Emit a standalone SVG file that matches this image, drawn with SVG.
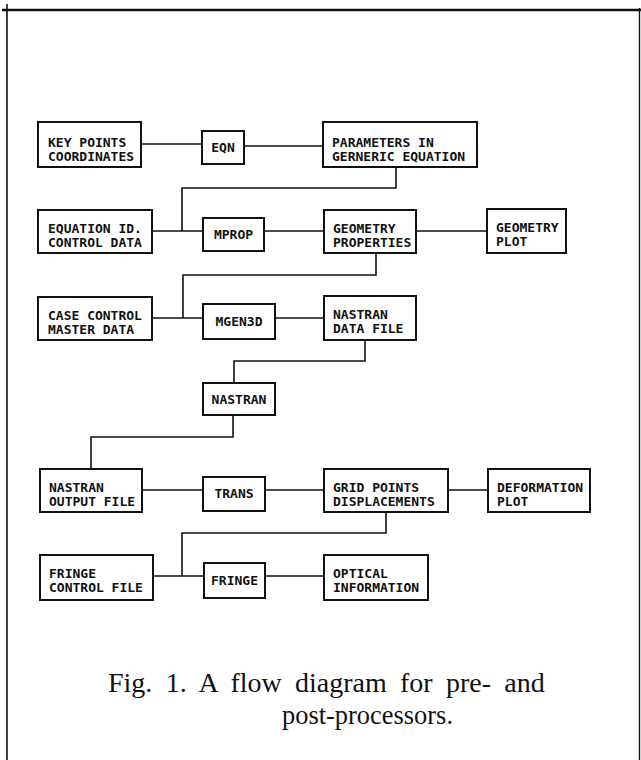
<svg xmlns="http://www.w3.org/2000/svg" width="641" height="760" viewBox="0 0 641 760">
<style>
.box{fill:#fff;stroke:#111;stroke-width:2}
.lbl{font-family:"DejaVu Sans Mono","Liberation Mono",monospace;font-weight:bold;font-size:13px;fill:#111}
.c{text-anchor:middle}
.wire{fill:none;stroke:#111;stroke-width:1.6}
.frame{fill:none;stroke:#111}
.cap{font-family:"Liberation Serif","Times New Roman",serif;font-size:28px;fill:#111}
</style>
<rect width="641" height="760" fill="#fff"/>
<g id="frame">
<line class="frame" x1="2" y1="10" x2="641" y2="10" stroke-width="2.6"/>
<line class="frame" x1="7" y1="4" x2="7" y2="760" stroke-width="1.6"/>
<line class="frame" x1="639.5" y1="8" x2="639.5" y2="760" stroke-width="1.4"/>
</g>
<g id="connectors">
<line class="wire" x1="141" y1="144" x2="202" y2="144"/>
<line class="wire" x1="244" y1="146" x2="323" y2="146"/>
<polyline class="wire" points="396,167 396,188 182,188 182,231"/>
<line class="wire" x1="152" y1="231" x2="203" y2="231"/>
<line class="wire" x1="264" y1="231" x2="324" y2="231"/>
<line class="wire" x1="416" y1="231" x2="487" y2="231" stroke-width="2"/>
<polyline class="wire" points="376,253 376,275 183,275 183,318"/>
<line class="wire" x1="152" y1="318" x2="203" y2="318"/>
<line class="wire" x1="275" y1="318" x2="324" y2="318"/>
<polyline class="wire" points="365,340 365,361 234,361 234,383"/>
<polyline class="wire" points="233,415 233,437 91,437 91,469"/>
<line class="wire" x1="142" y1="490" x2="203" y2="490"/>
<line class="wire" x1="265" y1="490" x2="324" y2="490"/>
<line class="wire" x1="448" y1="490" x2="488" y2="490"/>
<polyline class="wire" points="386,512 386,533 182,533 182,576"/>
<line class="wire" x1="153" y1="576" x2="204" y2="576"/>
<line class="wire" x1="265" y1="576" x2="324" y2="576"/>
</g>
<g id="key-points"><rect class="box" x="38" y="122" width="103" height="45"/><text class="lbl" x="48" y="147">KEY POINTS</text><text class="lbl" x="48" y="161">COORDINATES</text></g>
<g id="eqn"><rect class="box" x="202" y="131" width="42" height="33"/><text class="lbl c" x="223" y="152">EQN</text></g>
<g id="parameters"><rect class="box" x="323" y="122" width="154" height="45"/><text class="lbl" x="332" y="147">PARAMETERS IN</text><text class="lbl" x="332" y="161">GERNERIC EQUATION</text></g>
<g id="equation-id"><rect class="box" x="38" y="210" width="114" height="43"/><text class="lbl" x="48" y="233">EQUATION ID.</text><text class="lbl" x="48" y="247">CONTROL DATA</text></g>
<g id="mprop"><rect class="box" x="203" y="218" width="61" height="33"/><text class="lbl c" x="233.5" y="239">MPROP</text></g>
<g id="geometry-properties"><rect class="box" x="324" y="210" width="92" height="43"/><text class="lbl" x="333" y="233">GEOMETRY</text><text class="lbl" x="333" y="247">PROPERTIES</text></g>
<g id="geometry-plot"><rect class="box" x="487" y="209" width="79" height="44"/><text class="lbl" x="496" y="232">GEOMETRY</text><text class="lbl" x="496" y="246">PLOT</text></g>
<g id="case-control"><rect class="box" x="38" y="297" width="114" height="43"/><text class="lbl" x="48" y="320">CASE CONTROL</text><text class="lbl" x="48" y="334">MASTER DATA</text></g>
<g id="mgen3d"><rect class="box" x="203" y="304" width="72" height="35"/><text class="lbl c" x="239" y="326">MGEN3D</text></g>
<g id="nastran-data"><rect class="box" x="324" y="296" width="92" height="44"/><text class="lbl" x="333" y="319">NASTRAN</text><text class="lbl" x="333" y="333">DATA FILE</text></g>
<g id="nastran"><rect class="box" x="203" y="383" width="72" height="32"/><text class="lbl c" x="239" y="404">NASTRAN</text></g>
<g id="nastran-output"><rect class="box" x="40" y="469" width="102" height="43"/><text class="lbl" x="49" y="492">NASTRAN</text><text class="lbl" x="49" y="506">OUTPUT FILE</text></g>
<g id="trans"><rect class="box" x="203" y="477" width="62" height="34"/><text class="lbl c" x="234" y="498">TRANS</text></g>
<g id="grid-points"><rect class="box" x="324" y="469" width="124" height="43"/><text class="lbl" x="333" y="492">GRID POINTS</text><text class="lbl" x="333" y="506">DISPLACEMENTS</text></g>
<g id="deformation-plot"><rect class="box" x="488" y="469" width="102" height="43"/><text class="lbl" x="497" y="492">DEFORMATION</text><text class="lbl" x="497" y="506">PLOT</text></g>
<g id="fringe-control"><rect class="box" x="40" y="555" width="113" height="45"/><text class="lbl" x="49" y="578">FRINGE</text><text class="lbl" x="49" y="592">CONTROL FILE</text></g>
<g id="fringe"><rect class="box" x="204" y="563" width="61" height="35"/><text class="lbl c" x="234.5" y="585">FRINGE</text></g>
<g id="optical"><rect class="box" x="324" y="555" width="104" height="45"/><text class="lbl" x="333" y="578">OPTICAL</text><text class="lbl" x="333" y="592">INFORMATION</text></g>
<g id="caption">
<text class="cap" x="108" y="692" word-spacing="6.3">Fig. 1. A flow diagram for pre- and</text>
<text class="cap" x="282" y="724" textLength="171" lengthAdjust="spacingAndGlyphs">post-processors.</text>
</g>
</svg>
